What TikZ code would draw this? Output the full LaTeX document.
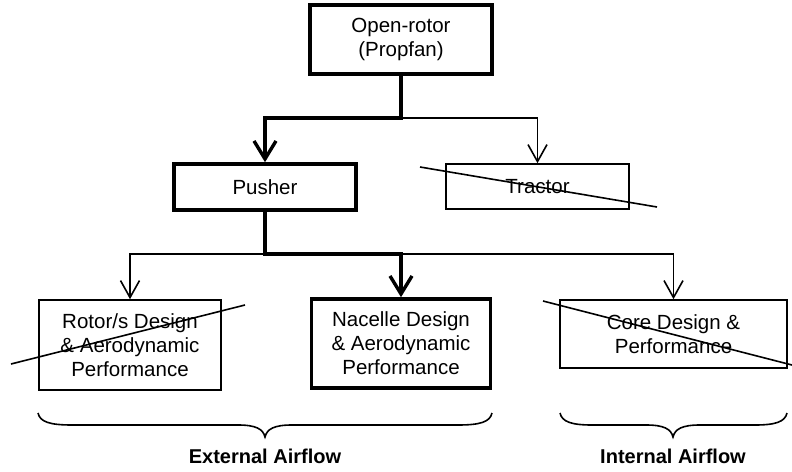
\documentclass[tikz,border=0pt]{standalone}
\usepackage{fontspec}
\setmainfont{Liberation Sans}
\usetikzlibrary{arrows.meta}
\begin{document}
\begin{tikzpicture}[x=1pt,y=-1pt,
  box/.style={draw, line width=1.6pt, align=center, inner sep=0pt,
    font=\fontsize{20.5}{24}\selectfont},
  boldbox/.style={box, line width=3.6pt},
  thinline/.style={line width=1.6pt},
  boldline/.style={line width=3.6pt},
  thinarr/.style={thinline, -{Straight Barb[length=17pt,width=19pt,line width=1.6pt]}},
  boldarr/.style={boldline, -{Straight Barb[length=18pt,width=22pt,line width=3.4pt]}},
  strike/.style={line width=1.6pt},
  brace/.style={line width=1.6pt},
  grouplabel/.style={font=\bfseries\fontsize{20}{24}\selectfont, inner sep=0pt}]
\useasboundingbox (0,0) rectangle (792,471);

% boxes
\node[boldbox, minimum width=182pt, minimum height=69pt] (top) at (401,39.5) {Open-rotor\\(Propfan)};
\node[boldbox, minimum width=182pt, minimum height=46pt] (pusher) at (265,187) {Pusher};
\node[box, minimum width=183pt, minimum height=45pt] (tractor) at (537.5,186.5) {Tractor};
\node[box, minimum width=182pt, minimum height=90pt] (rotor) at (130,345) {Rotor/s Design\\\& Aerodynamic\\Performance};
\node[boldbox, minimum width=179pt, minimum height=89pt] (nacelle) at (401,343.5) {Nacelle Design\\\& Aerodynamic\\Performance};
\node[box, minimum width=227pt, minimum height=68pt] (core) at (673.5,334) {Core Design \&\\Performance};

% junctions
\coordinate (j1) at (401,118);
\coordinate (j2) at (265,254);

% first level
\draw[thinarr] (j1) -| (tractor.north);
\draw[boldarr] (top.south) -- (j1) -| (pusher.north);

% second level
\draw[thinarr] (j2) -| (rotor.north);
\draw[thinarr] (j2) -| (core.north);
\draw[boldarr] (pusher.south) -- (j2) -| (nacelle.north);

% struck-out options
\coordinate (t1) at (420,167); \coordinate (t2) at (657,207);
\draw[strike] (t1) -- (t2);
\coordinate (r1) at (11,364); \coordinate (r2) at (245,305);
\draw[strike] (r1) -- (r2);
\coordinate (c1) at (543,301); \coordinate (c2) at (792,365);
\draw[strike] (c1) -- (c2);

% braces
\draw[brace] (38,413) .. controls (40,422) and (50,425) .. (72,425) -- (238,425)
  .. controls (256,425) and (263,429) .. (265,437)
  .. controls (267,429) and (274,425) .. (292,425) -- (458,425)
  .. controls (480,425) and (490,422) .. (492,413);
\draw[brace] (560,413) .. controls (562,422) and (572,425) .. (592,425) -- (646,425)
  .. controls (664,425) and (671,429) .. (673,437)
  .. controls (675,429) and (682,425) .. (700,425) -- (755,425)
  .. controls (775,425) and (785,422) .. (787,413);

\node[grouplabel] (ext) at (265,456) {External Airflow};
\node[grouplabel] (int) at (673,456) {Internal Airflow};
\end{tikzpicture}
\end{document}
